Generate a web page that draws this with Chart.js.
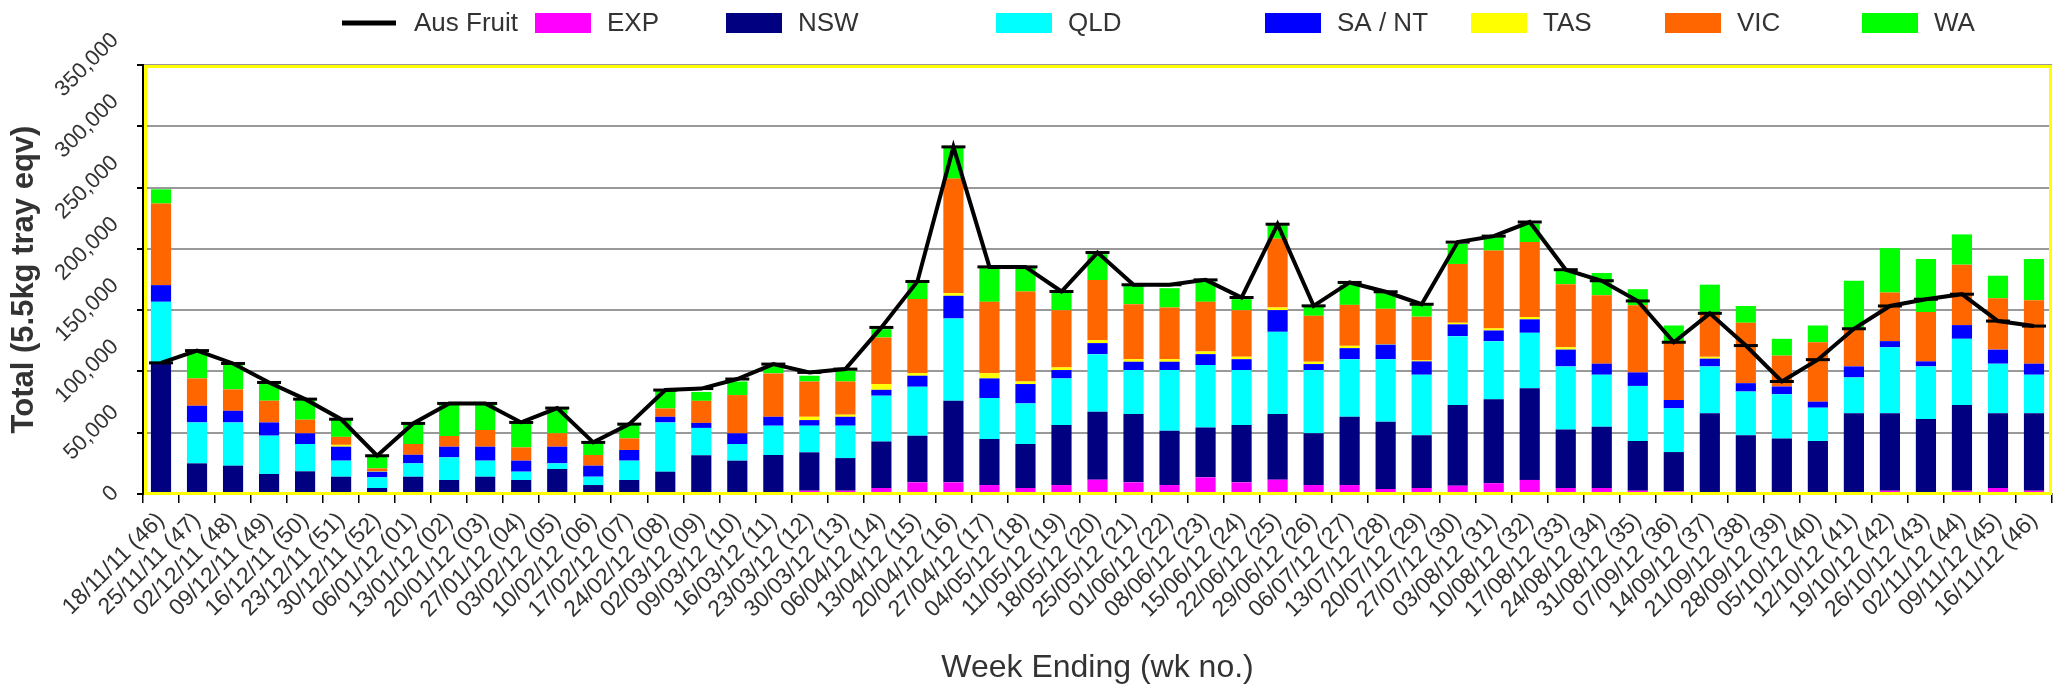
<!DOCTYPE html>
<html lang="en">
<head>
  <meta charset="UTF-8">
  <title>Week Ending</title>
  <script src="https://cdn.jsdelivr.net/npm/chart.js"></script>
  <style>
    body { margin: 0; background: #fff; }
  </style>
</head>
<body>
  <div style="width: 2067px; height: 689px;">
    <canvas id="fruitChart"></canvas>
  </div>

  <script>
    const weeks = [
      '18/11/11 (46)', '25/11/11 (47)', '02/12/11 (48)', '09/12/11 (49)', '16/12/11 (50)',
      '23/12/11 (51)', '30/12/11 (52)', '06/01/12 (01)', '13/01/12 (02)', '20/01/12 (03)',
      '27/01/12 (04)', '03/02/12 (05)', '10/02/12 (06)', '17/02/12 (07)', '24/02/12 (08)',
      '02/03/12 (09)', '09/03/12 (10)', '16/03/12 (11)', '23/03/12 (12)', '30/03/12 (13)',
      '06/04/12 (14)', '13/04/12 (15)', '20/04/12 (16)', '27/04/12 (17)', '04/05/12 (18)',
      '11/05/12 (19)', '18/05/12 (20)', '25/05/12 (21)', '01/06/12 (22)', '08/06/12 (23)',
      '15/06/12 (24)', '22/06/12 (25)', '29/06/12 (26)', '06/07/12 (27)', '13/07/12 (28)',
      '20/07/12 (29)', '27/07/12 (30)', '03/08/12 (31)', '10/08/12 (32)', '17/08/12 (33)',
      '24/08/12 (34)', '31/08/12 (35)', '07/09/12 (36)', '14/09/12 (37)', '21/09/12 (38)',
      '28/09/12 (39)', '05/10/12 (40)', '12/10/12 (41)', '19/10/12 (42)', '26/10/12 (43)',
      '02/11/12 (44)', '09/11/12 (45)', '16/11/12 (46)'
    ];

    const ausFruit = [
      107000, 117000, 106500, 91000, 77400, 61000, 31200, 57600, 73900, 73900,
      58400, 70100, 42100, 57000, 84800, 86000, 93800, 106000, 99200, 101900,
      135900, 173400, 283200, 185300, 185300, 165200, 197000, 170700, 170700, 174700,
      160300, 220100, 153500, 172600, 165000, 154800, 205500, 210400, 221900, 183000,
      174000, 157500, 123800, 147400, 121100, 91800, 109600, 134800, 153400, 158900,
      163000, 141100, 137000
    ];
    const exp = [
      0, 0, 0, 0, 0, 0, 0, 0, 0, 0,
      0, 0, 0, 0, 0, 0, 0, 0, 2700, 2700,
      4900, 9500, 9500, 7300, 4900, 7300, 11700, 9500, 7300, 13600,
      9500, 11700, 7300, 7300, 4100, 4900, 6800, 8800, 11500, 4900,
      4900, 2700, 2200, 500, 0, 0, 0, 0, 2700, 0,
      2700, 4900, 2700
    ];
    const nsw = [
      106500, 25000, 23100, 16300, 18500, 14100, 4900, 14100, 11400, 14100,
      11400, 20400, 7300, 11400, 18200, 31600, 27200, 31800, 31300, 26600,
      38000, 38100, 66600, 37500, 35900, 49000, 55400, 55700, 44300, 40700,
      46800, 53500, 42200, 55700, 54800, 43000, 65800, 68500, 74800, 47700,
      49900, 40600, 32000, 65300, 47900, 45200, 43300, 65800, 63100, 61100,
      69900, 60900, 63100
    ];
    const qld = [
      50300, 33400, 35300, 31300, 22300, 13100, 8700, 10900, 18500, 13100,
      6800, 4600, 6800, 15800, 40200, 22300, 13600, 23900, 21700, 26400,
      37300, 39900, 67100, 33500, 33100, 38000, 47000, 35900, 49500, 50900,
      44800, 67100, 51600, 47000, 51100, 49400, 56200, 47400, 45200, 51500,
      42500, 44900, 35700, 38300, 35700, 36200, 27100, 29300, 53900, 43000,
      54000, 40500, 31500
    ];
    const saNt = [
      13600, 13600, 9500, 10800, 8700, 11400, 4600, 7000, 8700, 11400,
      9000, 13600, 9000, 8700, 4600, 4100, 8700, 7300, 4600, 7300,
      4800, 9000, 18500, 16000, 15800, 6800, 9000, 6800, 6800, 8900,
      8900, 17700, 4900, 9000, 11900, 10900, 9600, 8700, 11000, 13700,
      9000, 11000, 6800, 6300, 6800, 6300, 4900, 9000, 5000, 4100,
      11200, 11500, 9000
    ];
    const tas = [
      0, 0, 0, 0, 0, 1500, 500, 0, 0, 0,
      0, 0, 0, 0, 0, 0, 0, 0, 2700, 1700,
      4700, 2100, 2200, 4300, 2100, 2200, 2400, 2100, 2100, 2200,
      2000, 2200, 1900, 1900, 500, 800, 1300, 1700, 1900, 1900,
      0, 0, 0, 1500, 0, 0, 0, 0, 0, 0,
      0, 0, 0
    ];
    const vic = [
      66600, 22300, 17400, 17700, 11100, 6500, 2200, 8800, 8700, 13600,
      10800, 10900, 8700, 9500, 6800, 18000, 31200, 35400, 28800, 27100,
      38000, 60400, 93400, 58200, 73400, 46700, 49000, 44900, 42200, 40500,
      38000, 56200, 37500, 33400, 28700, 35700, 48000, 63500, 61100, 51500,
      55900, 54800, 46600, 35600, 49300, 25200, 48500, 30100, 39700, 40300,
      49300, 41900, 51800
    ];
    const wa = [
      11600, 21200, 20700, 13600, 16000, 13800, 9500, 16300, 26100, 21200,
      19900, 20600, 9500, 11100, 14400, 7300, 11100, 6200, 4700, 8700,
      6800, 13600, 25300, 28000, 19600, 14400, 21200, 14900, 15700, 16600,
      9000, 10900, 7300, 16400, 13000, 9300, 16400, 11000, 15000, 11000,
      18100, 13100, 14200, 23300, 13700, 13700, 13700, 39800, 36100, 43300,
      24700, 18400, 33700
    ];

    const yTicks = [0, 50000, 100000, 150000, 200000, 250000, 300000, 350000];

    const FONT = '"Liberation Sans", Arial, sans-serif';
    const TEXT = '#333';
    Chart.defaults.font.family = FONT;
    Chart.defaults.color = TEXT;

    function bar(label, data, color) {
      return {
        type: 'bar',
        label: label,
        data: data,
        backgroundColor: color,
        borderWidth: 0,
        barPercentage: 0.56,
        categoryPercentage: 1.0,
        stack: 'states',
        order: 1
      };
    }

    // legend drawn by hand so the columns sit where the original has them
    const legendX = [342, 535, 726, 996, 1265, 1471, 1665, 1862];
    const legendPlugin = {
      id: 'fixedLegend',
      afterDraw(chart) {
        const ctx = chart.ctx;
        const cy = 23;
        ctx.save();
        ctx.font = '26px ' + FONT;
        ctx.textBaseline = 'middle';
        ctx.textAlign = 'left';
        chart.data.datasets.forEach((ds, i) => {
          const x = legendX[i];
          if (ds.type === 'line') {
            ctx.strokeStyle = ds.borderColor;
            ctx.lineWidth = 5;
            ctx.beginPath();
            ctx.moveTo(x, cy);
            ctx.lineTo(x + 54, cy);
            ctx.stroke();
          } else {
            ctx.fillStyle = ds.backgroundColor;
            ctx.fillRect(x, cy - 10, 56, 20);
          }
          ctx.fillStyle = TEXT;
          ctx.fillText(ds.label, x + 72, cy + 1);
        });
        ctx.restore();
      }
    };

    // rotated y labels, centred on their tick
    const yLabelPlugin = {
      id: 'yLabels',
      afterDraw(chart) {
        const ctx = chart.ctx;
        const y = chart.scales.y;
        ctx.save();
        ctx.font = '22px ' + FONT;
        ctx.fillStyle = TEXT;
        ctx.textAlign = 'center';
        ctx.textBaseline = 'middle';
        yTicks.forEach(v => {
          const txt = v.toLocaleString('en-US');
          const half = (ctx.measureText(txt).width + 22) * Math.SQRT1_2 / 2;
          ctx.save();
          ctx.translate(y.right - 20 - half, y.getPixelForValue(v));
          ctx.rotate(-Math.PI / 4);
          ctx.fillText(txt, 0, 0);
          ctx.restore();
        });
        ctx.restore();
      }
    };

    // yellow frame round the plot
    const framePlugin = {
      id: 'frame',
      afterDatasetsDraw(chart) {
        const a = chart.chartArea;
        const ctx = chart.ctx;
        ctx.save();
        ctx.strokeStyle = '#ffff00';
        ctx.lineWidth = 3;
        ctx.strokeRect(a.left + 2.5, a.top + 1.5, a.right - a.left - 4, a.bottom - a.top - 2);
        ctx.restore();
      }
    };

    const config = {
      data: {
        labels: weeks,
        datasets: [
          {
            type: 'line',
            label: 'Aus Fruit',
            data: ausFruit,
            borderColor: '#000',
            backgroundColor: '#000',
            borderWidth: 4,
            tension: 0,
            pointStyle: 'line',
            pointRadius: 12,
            pointBorderWidth: 3,
            pointBorderColor: '#000',
            stack: 'total',
            order: 0
          },
          bar('EXP', exp, '#ff00ff'),
          bar('NSW', nsw, '#000080'),
          bar('QLD', qld, '#00ffff'),
          bar('SA / NT', saNt, '#0000ff'),
          bar('TAS', tas, '#ffff00'),
          bar('VIC', vic, '#ff6600'),
          bar('WA', wa, '#00ff00')
        ]
      },
      options: {
        responsive: true,
        maintainAspectRatio: false,
        animation: false,
        layout: { padding: { top: 65, right: 4, left: 0, bottom: 0 } },
        plugins: {
          legend: { display: false },
          tooltip: { enabled: false }
        },
        scales: {
          x: {
            stacked: true,
            grid: {
              display: true,
              drawOnChartArea: false,
              drawTicks: true,
              tickLength: 9,
              tickColor: '#000',
              lineWidth: 1.5,
              offset: true
            },
            border: { display: true, color: '#000', width: 1.5 },
            ticks: {
              autoSkip: false,
              minRotation: 45,
              maxRotation: 45,
              padding: 4,
              color: TEXT,
              font: { size: 23 }
            },
            title: {
              display: true,
              text: 'Week Ending (wk no.)',
              color: TEXT,
              font: { size: 32 },
              padding: { top: 2, bottom: 2 }
            },
            afterFit(scale) { scale.height = 195; }
          },
          y: {
            stacked: true,
            min: 0,
            max: 350000,
            ticks: { stepSize: 50000, display: false },
            grid: {
              color: '#999',
              lineWidth: 2,
              tickColor: '#000',
              tickLength: 6,
              drawTicks: true
            },
            border: { display: true, color: '#000', width: 2 },
            title: {
              display: true,
              text: 'Total (5.5kg tray eqv)',
              color: TEXT,
              font: { size: 31, weight: 'bold' },
              padding: { top: 6, bottom: 4 }
            },
            afterFit(scale) { scale.width = 143; }
          }
        }
      },
      plugins: [framePlugin, yLabelPlugin, legendPlugin]
    };

    new Chart(document.getElementById('fruitChart'), config);
  </script>
</body>
</html>
